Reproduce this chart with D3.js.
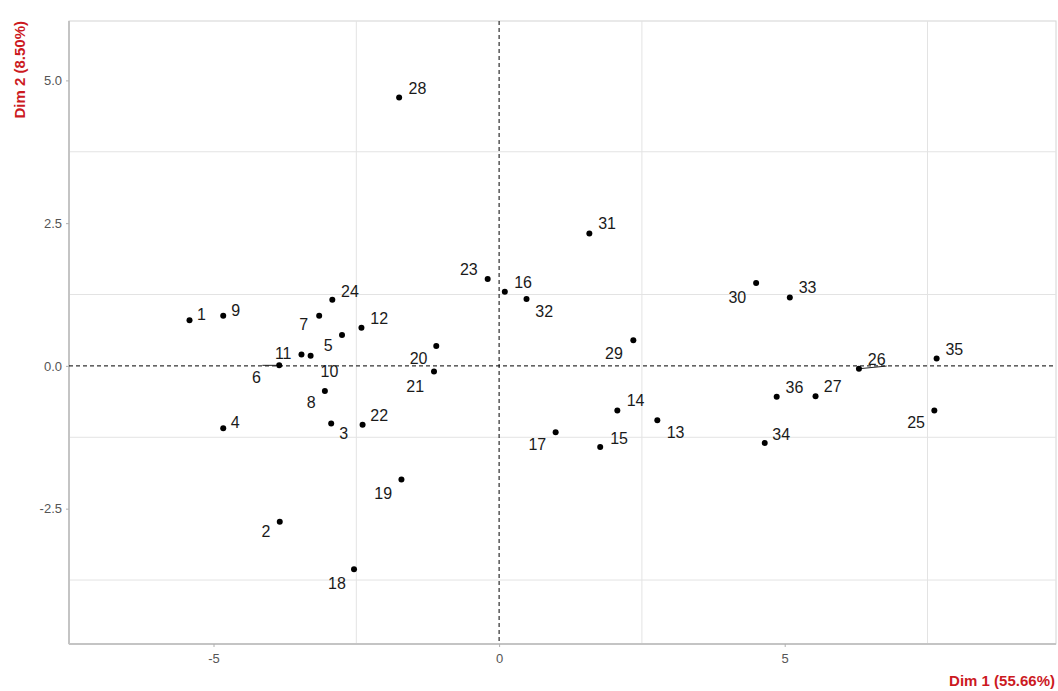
<!DOCTYPE html>
<html>
<head>
<meta charset="utf-8">
<script src="https://cdn.jsdelivr.net/npm/d3@7"></script>
<style>
  body { margin: 0; background: #fff; }
  svg { display: block; font-family: "Liberation Sans", Arial, sans-serif; }
</style>
</head>
<body>
<div id="chart"></div>
<script>

// individuals (PCA scores)
let ids = [1,2,3,4,5,6,7,8,9,10,11,12,13,14,15,16,17,18,19,20,21,22,23,24,25,26,27,28,29,30,31,32,33,34,35,36];
let dim1 = [-5.42,-3.84,-2.94,-4.83,-2.75,-3.85,-3.15,-3.05,-4.83,-3.30,-3.46,-2.41,2.77,2.07,1.77,0.10,0.99,-2.54,-1.71,-1.10,-1.14,-2.39,-0.20,-2.92,7.62,6.30,5.54,-1.75,2.35,4.50,1.58,0.48,5.09,4.65,7.66,4.86];
let dim2 = [0.80,-2.73,-1.01,-1.09,0.54,0.01,0.88,-0.44,0.88,0.18,0.20,0.67,-0.95,-0.78,-1.42,1.30,-1.16,-3.56,-1.99,0.35,-0.10,-1.03,1.52,1.16,-0.78,-0.05,-0.53,4.70,0.45,1.45,2.32,1.17,1.20,-1.35,0.13,-0.54];

// where the (repelled) labels ended up, in data units
let labX = [-5.21,-4.08,-2.72,-4.62,-2.99,-4.25,-3.42,-3.29,-4.61,-2.97,-3.78,-2.10,3.09,2.39,2.10,0.42,0.67,-2.84,-2.03,-1.41,-1.47,-2.10,-0.53,-2.61,7.30,6.61,5.84,-1.43,2.01,4.17,1.89,0.79,5.40,4.94,7.97,5.17];
let labY = [0.91,-2.90,-1.18,-0.99,0.36,-0.20,0.73,-0.63,0.98,-0.09,0.23,0.84,-1.16,-0.60,-1.26,1.47,-1.38,-3.80,-2.23,0.13,-0.35,-0.87,1.70,1.30,-0.99,0.12,-0.36,4.86,0.23,1.21,2.49,0.96,1.38,-1.19,0.29,-0.38];
let segmentIds = [6, 26];

let xTicks = [-5, 0, 5];
let yTicks = [-2.5, 0, 2.5, 5];
let xGrid = [-2.5, 2.5, 7.5];
let yGrid = [-3.75, -1.25, 1.25, 3.75];
let xDomain = [-7.53, 9.75];
let yDomain = [-4.87, 6.04];

let xTitle = "Dim 1 (55.66%)";
let yTitle = "Dim 2 (8.50%)";

let width = 1058;
let height = 691;
let margin = {top: 21, right: 2, bottom: 47, left: 69};

let points = ids.map((d, i) => ({id: d, x: dim1[i], y: dim2[i], lx: labX[i], ly: labY[i]}));

let svg = d3.select("#chart")
	.append("svg")
	.attr("width", width)
	.attr("height", height);

let x = d3.scaleLinear()
	.domain(xDomain)
	.range([margin.left, width - margin.right]);

let y = d3.scaleLinear()
	.domain(yDomain)
	.range([height - margin.bottom, margin.top]);

// panel
svg.append("rect")
	.attr("x", margin.left)
	.attr("y", margin.top)
	.attr("width", width - margin.left - margin.right)
	.attr("height", height - margin.top - margin.bottom)
	.attr("fill", "#fff")
	.attr("stroke", "#d4d4d4")
	.attr("stroke-width", 1);

// grid
svg.append("g").selectAll("line")
	.data(xGrid)
	.enter().append("line")
	.attr("x1", d => x(d)).attr("x2", d => x(d))
	.attr("y1", margin.top).attr("y2", height - margin.bottom)
	.attr("stroke", "#e3e3e3");

svg.append("g").selectAll("line")
	.data(yGrid)
	.enter().append("line")
	.attr("y1", d => y(d)).attr("y2", d => y(d))
	.attr("x1", margin.left).attr("x2", width - margin.right)
	.attr("stroke", "#e3e3e3");

// axes (plain hyphen for negatives, like R)
let fmtX = d => d3.format("d")(d).replace("\u2212", "-");
let fmtY = d => d3.format(".1f")(d).replace("\u2212", "-");

let xAxis = svg.append("g")
	.attr("transform", "translate(0," + (height - margin.bottom) + ")")
	.call(d3.axisBottom(x).tickValues(xTicks).tickFormat(fmtX).tickSize(3).tickPadding(7));

let yAxis = svg.append("g")
	.attr("transform", "translate(" + margin.left + ",0)")
	.call(d3.axisLeft(y).tickValues(yTicks).tickFormat(fmtY).tickSize(3).tickPadding(4));

[xAxis, yAxis].forEach(a => {
	a.select(".domain").attr("stroke", "#c4c4c4").attr("stroke-width", 2);
	a.selectAll(".tick line").attr("stroke", "#b0b0b0");
	a.selectAll(".tick text")
		.attr("fill", "#555")
		.style("font-size", "13px")
		.style("font-family", "'Liberation Sans', Arial, sans-serif");
});
yAxis.select(".domain").attr("d", "M0," + margin.top + "V" + (height - margin.bottom));
xAxis.select(".domain").attr("d", "M" + margin.left + ",0H" + (width - margin.right));

// origin lines
svg.append("line")
	.attr("x1", x(0)).attr("x2", x(0))
	.attr("y1", margin.top).attr("y2", height - margin.bottom)
	.attr("stroke", "#000")
	.attr("stroke-dasharray", "4,3");

svg.append("line")
	.attr("x1", margin.left).attr("x2", width - margin.right)
	.attr("y1", y(0)).attr("y2", y(0))
	.attr("stroke", "#000")
	.attr("stroke-dasharray", "4,3");

// label segments (the repel ones)
svg.append("g").selectAll("line")
	.data(points.filter(d => segmentIds.includes(d.id)))
	.enter().append("line")
	.attr("x1", d => x(d.x))
	.attr("y1", d => y(d.y))
	.attr("x2", d => x(d.lx) + (d.lx < d.x ? 6 : 10))
	.attr("y2", d => d.lx < d.x ? y(d.y) : y(d.ly) + 7)
	.attr("stroke", "#222")
	.attr("stroke-width", 1);

// points
svg.append("g").selectAll("circle")
	.data(points)
	.enter().append("circle")
	.attr("cx", d => x(d.x))
	.attr("cy", d => y(d.y))
	.attr("r", 3)
	.attr("fill", "#000");

// labels
svg.append("g").selectAll("text")
	.data(points)
	.enter().append("text")
	.attr("x", d => x(d.lx))
	.attr("y", d => y(d.ly))
	.attr("text-anchor", "middle")
	.attr("dy", "0.36em")
	.attr("fill", "#1a1a1a")
	.style("font-size", "16px")
	.text(d => d.id);

// axis titles
svg.append("text")
	.attr("x", width - 3)
	.attr("y", height - 5)
	.attr("text-anchor", "end")
	.attr("fill", "#cc1a1f")
	.style("font-size", "15px")
	.style("font-weight", "bold")
	.text(xTitle);

svg.append("text")
	.attr("transform", "translate(25," + margin.top + ") rotate(-90)")
	.attr("text-anchor", "end")
	.attr("fill", "#cc1a1f")
	.style("font-size", "15px")
	.style("font-weight", "bold")
	.text(yTitle);

</script>
</body>
</html>
